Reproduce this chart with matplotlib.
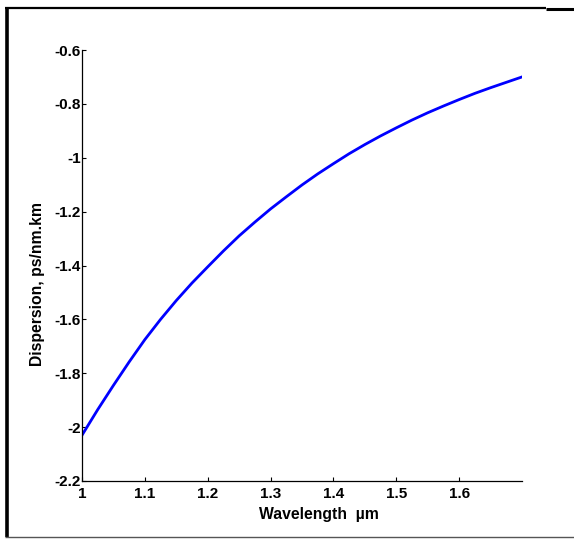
import matplotlib.pyplot as plt
from matplotlib.lines import Line2D

plt.rcParams['font.family'] = ['Liberation Sans', 'DejaVu Sans']

# values
wavelength = [1.000, 1.025, 1.050, 1.075, 1.100, 1.125, 1.150, 1.175,
              1.200, 1.225, 1.250, 1.275, 1.300, 1.325, 1.350, 1.375,
              1.400, 1.425, 1.450, 1.475, 1.500, 1.525, 1.550, 1.575,
              1.600, 1.625, 1.650, 1.675, 1.700]
dispersion = [-2.030, -1.935, -1.845, -1.758, -1.675, -1.600, -1.530, -1.465,
              -1.405, -1.346, -1.290, -1.239, -1.190, -1.145, -1.101, -1.060,
              -1.022, -0.985, -0.951, -0.919, -0.889, -0.860, -0.833, -0.808,
              -0.784, -0.761, -0.740, -0.720, -0.700]
xticks = [1, 1.1, 1.2, 1.3, 1.4, 1.5, 1.6]
xtick_labels = ['1', '1.1', '1.2', '1.3', '1.4', '1.5', '1.6']
yticks = [-2.2, -2, -1.8, -1.6, -1.4, -1.2, -1, -0.8, -0.6]
ytick_labels = ['-2.2', '-2', '-1.8', '-1.6', '-1.4', '-1.2', '-1', '-0.8', '-0.6']

W, H = 574, 541
fig = plt.figure(figsize=(W / 100, H / 100), dpi=100)
ax = fig.add_axes([82 / W, 1 - 481 / H, 440 / W, 431 / H])

ax.plot(wavelength, dispersion, color='#0000ff', lw=2)

ax.set_xlim(1, 1.7)
ax.set_ylim(-2.2, -0.6)
ax.set_xticks(xticks)
ax.set_xticklabels(xtick_labels, fontsize=11, fontweight='bold')
ax.set_yticks(yticks)
ax.set_yticklabels(ytick_labels, fontsize=11, fontweight='bold')
ax.tick_params(direction='in', length=3, width=0.8, pad=1)
ax.tick_params(axis='x', pad=4)

for s in ['top', 'right']:
    ax.spines[s].set_visible(False)
for s in ['left', 'bottom']:
    ax.spines[s].set_linewidth(0.9)

ax.set_xlabel('Wavelength  µm', fontsize=11.3, fontweight='bold')
ax.set_ylabel('Dispersion, ps/nm.km', fontsize=11.3, fontweight='bold')
ax.xaxis.label.set_va('center')
ax.yaxis.label.set_va('center')
ax.xaxis.set_label_coords(0.5375, -0.077)
ax.yaxis.set_label_coords(-0.1, 0.457)

# outer frame pieces around the picture
def px_line(x0, y0, x1, y1, lw, color='black'):
    fig.add_artist(Line2D([x0 / W, x1 / W], [1 - y0 / H, 1 - y1 / H],
                          transform=fig.transFigure, lw=lw, color=color,
                          solid_capstyle='butt'))

px_line(6.5, 8, 6.5, 537, 2.6)
px_line(5, 8, 546, 8, 1.6)
px_line(546, 9, 574, 9, 2.2)
px_line(5, 536.5, 574, 536.5, 1.0, color='#555555')

fig.savefig('out.png', dpi=100)
